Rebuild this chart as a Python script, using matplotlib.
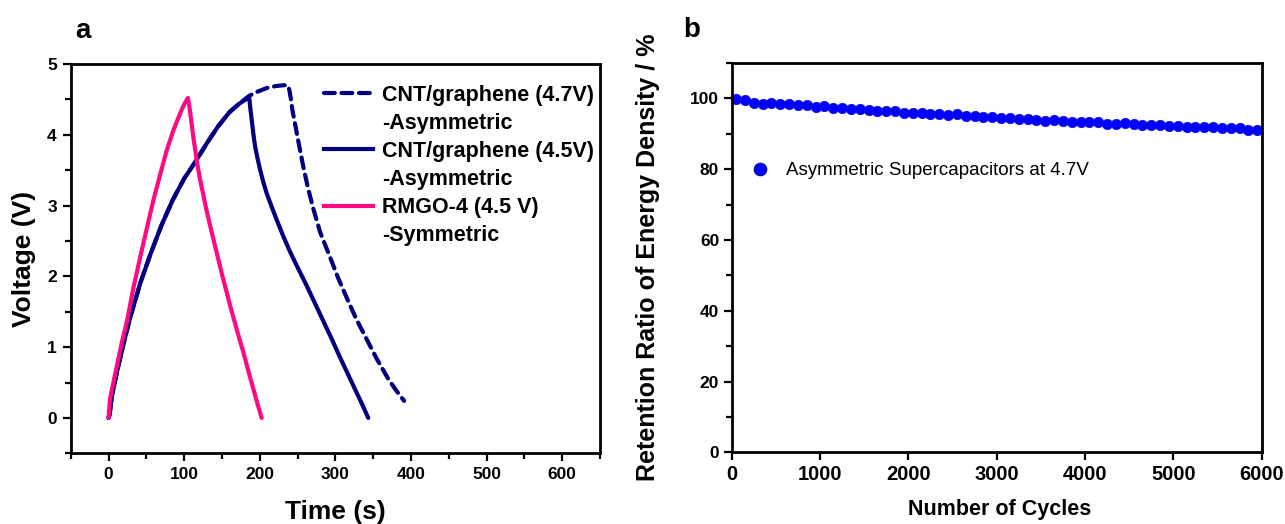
import matplotlib
matplotlib.use("Agg")
import matplotlib.pyplot as plt
from matplotlib.lines import Line2D
from matplotlib.ticker import MultipleLocator

plt.rcParams['font.family'] = ['Liberation Sans', 'DejaVu Sans']

# ---- panel a: galvanostatic charge/discharge curves ----
rmgo_t = [0, 2, 8.8, 17.7, 24.3, 33, 41.9, 50.7, 59, 68.3, 77, 86, 92, 97, 101, 105,
          106.5, 108, 110, 112, 114.5, 116.8, 120.5, 125, 129.5, 134.3, 139.5, 145, 150.5,
          156.4, 161.5, 167, 172.5, 178.3, 184.5, 191, 197, 202.5]
rmgo_v = [0, 0.27, 0.62, 1.07, 1.36, 1.84, 2.27, 2.68, 3.06, 3.44, 3.78, 4.07, 4.23, 4.36, 4.45, 4.52,
          4.43, 4.32, 4.15, 3.98, 3.80, 3.63, 3.40, 3.17, 2.94, 2.72, 2.49, 2.25, 2.01,
          1.77, 1.56, 1.35, 1.14, 0.93, 0.68, 0.43, 0.20, 0.0]

cnt45_t = [0, 1.5, 4.5, 11, 19.9, 28.7, 41.9, 55, 70, 85, 100, 115, 130, 145, 160, 173, 186,
           187.5, 189.4, 191.5, 193.8, 197, 200.4, 204.5, 209, 215.5, 222.4, 231, 240, 249,
           262, 273, 284, 295, 306, 317, 328, 336, 343.5]
cnt45_v = [0, 0.05, 0.31, 0.64, 1.05, 1.42, 1.90, 2.30, 2.72, 3.08, 3.38, 3.62, 3.88, 4.12,
           4.32, 4.44, 4.53,
           4.38, 4.21, 4.02, 3.84, 3.67, 3.51, 3.34, 3.18, 2.99, 2.80, 2.57, 2.35, 2.15,
           1.87, 1.62, 1.37, 1.12, 0.86, 0.61, 0.36, 0.18, 0.0]

cnt47_t = [0, 1.5, 4.5, 11, 19.9, 28.7, 41.9, 55, 70, 85, 100, 115, 130, 145, 160, 173, 186,
           195, 209, 222, 232, 237,
           239, 241, 243, 246.6, 251, 257.6, 264, 271, 280, 293, 304, 317, 328, 341, 354.5, 370,
           381, 391]
cnt47_v = [0, 0.05, 0.31, 0.64, 1.05, 1.42, 1.90, 2.30, 2.72, 3.08, 3.38, 3.62, 3.88, 4.12,
           4.32, 4.44, 4.55, 4.60, 4.66, 4.69, 4.70, 4.70,
           4.64, 4.52, 4.36, 4.16, 3.91, 3.55, 3.24, 2.95, 2.62, 2.27, 1.97, 1.65, 1.39, 1.12,
           0.84, 0.55, 0.38, 0.24]

labels_a = ["CNT/graphene (4.7V)", "-Asymmetric",
            "CNT/graphene (4.5V)", "-Asymmetric",
            "RMGO-4 (4.5 V)", "-Symmetric"]

# ---- panel b: cycling stability ----
cycles = [50 + 100 * i for i in range(60)]
retention = [99.7, 99.5, 98.8, 98.4, 98.8, 98.5, 98.3, 98.2, 98.0, 97.7,
             97.8, 97.4, 97.2, 97.1, 96.9, 96.6, 96.4, 96.3, 96.3, 96.0,
             95.8, 95.8, 95.6, 95.5, 95.4, 95.5, 95.0, 95.0, 94.8, 94.7,
             94.5, 94.6, 94.3, 94.1, 93.9, 93.6, 93.9, 93.7, 93.4, 93.2,
             93.4, 93.2, 92.9, 92.9, 93.1, 92.8, 92.6, 92.6, 92.4, 92.2,
             92.2, 92.0, 92.0, 91.9, 91.8, 91.6, 91.7, 91.6, 91.2, 91.1]
label_b = "Asymmetric Supercapacitors at 4.7V"

NAVY = '#000080'
PINK = '#ff0a84'
BLUE = '#0000ff'

fig = plt.figure(figsize=(12.85, 5.24), dpi=100)
W, H = 1285, 524

def frac_box(x0, y0, x1, y1):
    return [x0 / W, 1 - y1 / H, (x1 - x0) / W, (y1 - y0) / H]

ax1 = fig.add_axes(frac_box(70.7, 64, 600, 453.3))
ax2 = fig.add_axes(frac_box(731.7, 63, 1261.7, 452.3))

# panel a
lw = 3.0
DASH = (0, (2.6, 1.6))
ax1.plot(cnt47_t, cnt47_v, color=NAVY, lw=lw, ls=DASH,
         dash_capstyle='round', solid_capstyle='round')
ax1.plot(cnt45_t, cnt45_v, color=NAVY, lw=lw, solid_capstyle='round')
ax1.plot(rmgo_t, rmgo_v, color=PINK, lw=lw, solid_capstyle='round')

ax1.set_xlim(-50, 650)
ax1.set_ylim(-0.5, 5)
ax1.xaxis.set_minor_locator(MultipleLocator(50))
ax1.yaxis.set_minor_locator(MultipleLocator(0.5))
ax1.set_xticks(range(0, 601, 100))
ax1.set_yticks(range(0, 6))
ax1.tick_params(which='major', direction='out', length=6, width=1.6, labelsize=12.5, pad=4)
ax1.tick_params(which='minor', direction='out', length=4, width=1.6)
for lab in ax1.get_xticklabels() + ax1.get_yticklabels():
    lab.set_fontweight('bold')
for sp in ax1.spines.values():
    sp.set_linewidth(2.0)
ax1.set_xlabel("Time (s)", fontsize=19, fontweight='bold', va='center')
ax1.xaxis.set_label_coords(0.5, -0.151)
ax1.set_ylabel("Voltage (V)", fontsize=19, fontweight='bold', va='center')
ax1.yaxis.set_label_coords(-0.088, 0.5)

blank = Line2D([], [], color='none')
handles_a = [Line2D([], [], color=NAVY, lw=lw, ls=DASH, dash_capstyle='round'), blank,
             Line2D([], [], color=NAVY, lw=lw), blank,
             Line2D([], [], color=PINK, lw=lw), blank]
leg_a = ax1.legend(handles_a, labels_a, loc='upper left', bbox_to_anchor=(0.478, 0.947),
                   frameon=False, borderpad=0, borderaxespad=0, handlelength=2.3,
                   handletextpad=0.4, labelspacing=0.33,
                   prop={'size': 15.5, 'weight': 'bold'})

# panel b
ax2.plot(cycles, retention, ls='none', marker='o', markersize=7.4,
         markerfacecolor=BLUE, markeredgecolor='#1010e0', markeredgewidth=0.6, clip_on=False)
ax2.set_xlim(0, 6000)
ax2.set_ylim(0, 110)
ax2.set_xticks(range(0, 6001, 1000))
ax2.set_yticks(range(0, 101, 20))
ax2.yaxis.set_minor_locator(MultipleLocator(10))
ax2.tick_params(which='major', direction='out', length=6, width=1.6, pad=3)
ax2.tick_params(which='minor', direction='out', length=4, width=1.6)
ax2.tick_params(axis='x', labelsize=14.5)
ax2.tick_params(axis='y', labelsize=12.5)
for lab in ax2.get_xticklabels() + ax2.get_yticklabels():
    lab.set_fontweight('bold')
for sp in ax2.spines.values():
    sp.set_linewidth(2.0)
ax2.set_xlabel("Number of Cycles", fontsize=15.5, fontweight='bold', va='center')
ax2.xaxis.set_label_coords(0.506, -0.148)
ax2.set_ylabel("Retention Ratio of Energy Density / %", fontsize=18, fontweight='bold', va='center')
ax2.yaxis.set_label_coords(-0.158, 0.5)

handle_b = Line2D([], [], ls='none', marker='o', markersize=9,
                  markerfacecolor=BLUE, markeredgecolor='#00009a', markeredgewidth=0.8)
ax2.legend([handle_b], [label_b], loc='center left', bbox_to_anchor=(0.031, 0.7234),
           frameon=False, borderpad=0, borderaxespad=0, handlelength=1.3,
           handletextpad=0.7, numpoints=1, prop={'size': 13.5})

fig.text(83 / W, 1 - 38 / H, 'a', ha='center', va='baseline', fontsize=20, fontweight='bold')
fig.text(692 / W, 1 - 37 / H, 'b', ha='center', va='baseline', fontsize=20, fontweight='bold')

fig.savefig('out.png', dpi=100)
